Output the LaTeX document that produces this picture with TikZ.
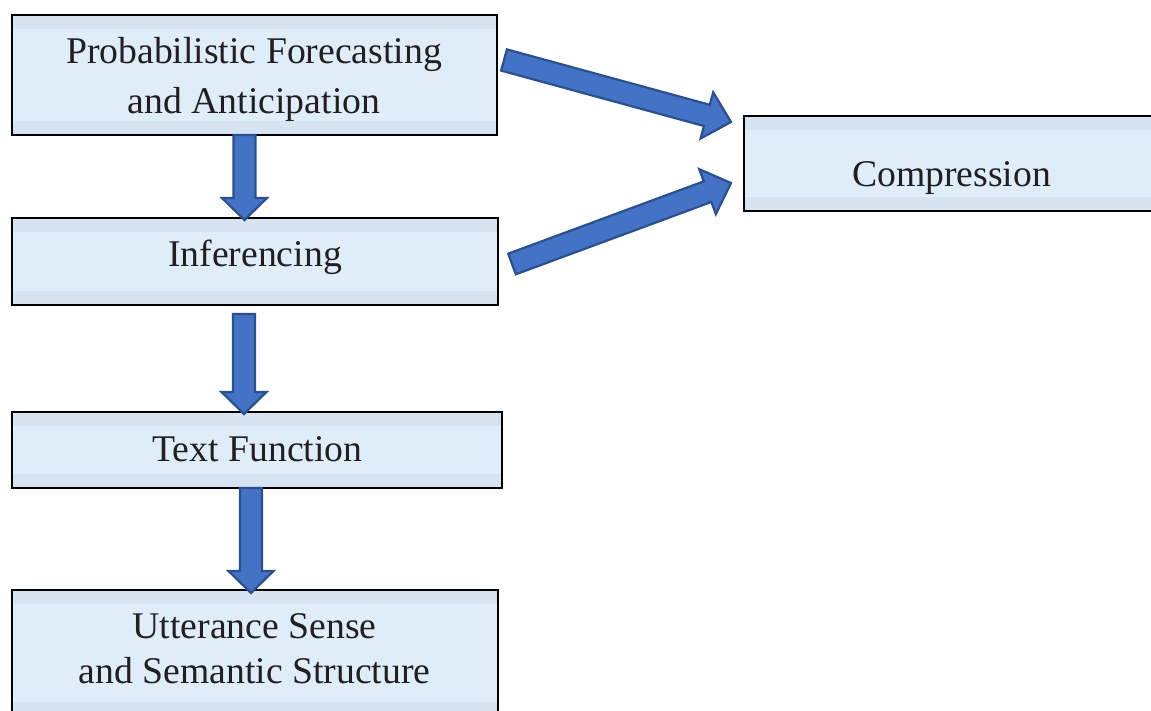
\documentclass[tikz,border=0pt]{standalone}
\usepackage{fontspec}
\setmainfont{Liberation Serif}
\usetikzlibrary{calc}
\definecolor{boxfill}{HTML}{DEEDF8}
\definecolor{boxband}{HTML}{D6E3F1}
\definecolor{arrowfill}{HTML}{4472C4}
\definecolor{arrowline}{HTML}{2B5091}
\definecolor{txt}{HTML}{231F20}
\tikzset{
  box/.style={draw=black, line width=2pt, fill=boxfill, inner sep=0pt, outer sep=0pt,
    path picture={
      \fill[boxband] (path picture bounding box.north west) rectangle ([yshift=-14pt]path picture bounding box.north east);
      \fill[boxband] (path picture bounding box.south west) rectangle ([yshift=14pt]path picture bounding box.south east);
    }},
  lbl/.style={anchor=base, inner sep=0pt, text=txt, font=\fontsize{37.7}{45}\selectfont},
  blockarrow/.style={fill=arrowfill, draw=arrowline, line width=2.2pt, line join=miter}
}
\newcommand\blockarr[5]{%
  \coordinate (#1s) at (#2);
  \coordinate (#1e) at (#3);
  \coordinate (#1h) at ($(#1e)!#4!(#1s)$);
  \draw[blockarrow]
    ($(#1s)!11pt!90:(#1e)$) -- ($(#1h)!11pt!90:(#1e)$) -- ($(#1h)!#5!90:(#1e)$) --
    (#1e) -- ($(#1h)!#5!-90:(#1e)$) -- ($(#1h)!11pt!-90:(#1e)$) --
    ($(#1s)!11pt!-90:(#1e)$) -- cycle;
}
\begin{document}
\begin{tikzpicture}[x=1pt,y=-1pt]
\useasboundingbox (0,0) rectangle (1151,711);
\clip (0,0) rectangle (1151,711);
\fill[white] (0,0) rectangle (1151,711);
% boxes
\node[box, minimum width=485pt, minimum height=120pt] (b1) at (254.5,75) {};
\node[box, minimum width=486pt, minimum height=87pt] (b2) at (255,261.5) {};
\node[box, minimum width=490pt, minimum height=76pt] (b3) at (257,450) {};
\node[box, minimum width=486pt, minimum height=126pt] (b4) at (255,653) {};
\node[box, minimum width=416pt, minimum height=95pt] (b5) at (952,163.5) {};
% texts
\node[lbl] (t1a) at (254,64) {Probabilistic Forecasting};
\node[lbl] (t1b) at (254,114) {and Anticipation};
\node[lbl] (t2) at (255,267) {Inferencing};
\node[lbl] (t3) at (257.5,461) {Text Function};
\node[lbl] (t4a) at (254.5,638) {Utterance Sense};
\node[lbl] (t4b) at (254.5,683) {and Semantic Structure};
\node[lbl] (t5) at (951.5,187) {Compression};
% arrows
\blockarr{a1}{[xshift=-10pt]b1.south}{[xshift=-10.5pt,yshift=-2pt]b2.north}{22pt}{22.5pt}
\blockarr{a2}{[xshift=-11pt,yshift=-9pt]b2.south}{[xshift=-13pt,yshift=-2pt]b3.north}{22pt}{22.5pt}
\blockarr{a3}{[xshift=-6pt]b3.south}{[xshift=-4pt,yshift=-3pt]b4.north}{22pt}{22.5pt}
\blockarr{a4}{[xshift=7pt,yshift=15pt]b1.east}{[xshift=-13pt,yshift=41.5pt]b5.west}{25pt}{24pt}
\blockarr{a5}{[xshift=14pt,yshift=-2.5pt]b2.east}{[xshift=-13pt,yshift=-19.5pt]b5.west}{25pt}{24pt}
\end{tikzpicture}
\end{document}
